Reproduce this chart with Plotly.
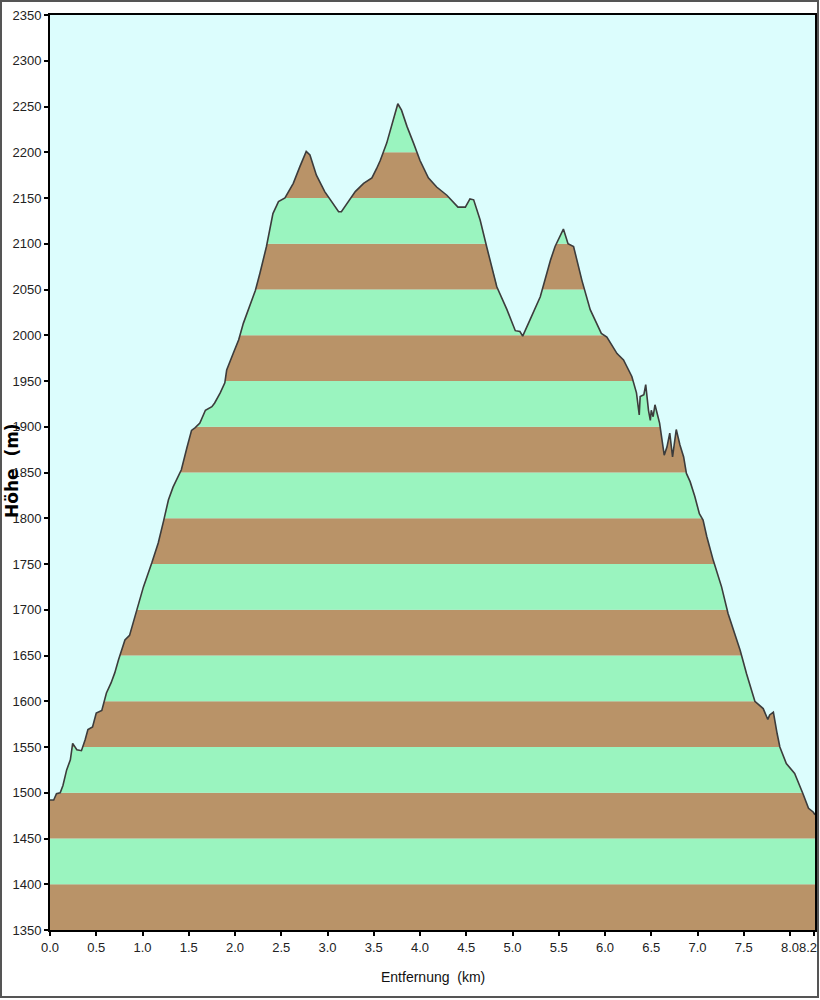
import numpy as np
import plotly.graph_objects as go

distance_km = [
    0.00, 0.04, 0.07, 0.11, 0.14, 0.18, 0.22, 0.245, 0.29, 0.34, 0.38, 0.41, 0.46, 0.50,
    0.56, 0.61, 0.66, 0.70, 0.74, 0.76, 0.81, 0.86, 0.94, 1.01, 1.10, 1.17, 1.23, 1.28,
    1.33, 1.42, 1.48, 1.53, 1.57, 1.62, 1.68, 1.75, 1.78, 1.84, 1.89, 1.91, 1.98, 2.04,
    2.09, 2.22, 2.27, 2.34, 2.41, 2.47, 2.54, 2.63, 2.70, 2.77, 2.81, 2.88, 2.97, 3.05,
    3.12, 3.15, 3.21, 3.30, 3.39, 3.48, 3.53, 3.57, 3.64, 3.71, 3.76, 3.80, 3.86, 3.93,
    4.00, 4.09, 4.18, 4.29, 4.41, 4.49, 4.54, 4.58, 4.65, 4.72, 4.83, 4.94, 5.03, 5.08,
    5.11, 5.19, 5.30, 5.41, 5.46, 5.55, 5.60, 5.66, 5.75, 5.84, 5.96, 6.02, 6.13, 6.20,
    6.29, 6.34, 6.37, 6.38, 6.42, 6.44, 6.47, 6.49, 6.50, 6.52, 6.54, 6.59, 6.64, 6.67,
    6.70, 6.73, 6.77, 6.81, 6.85, 6.88, 6.92, 6.97, 7.02, 7.06, 7.10, 7.17, 7.26, 7.33,
    7.46, 7.53, 7.62, 7.71, 7.76, 7.78, 7.82, 7.86, 7.89, 7.96, 8.05, 8.14, 8.20, 8.25,
    8.27,
]
elevation_m = [
    1492, 1492, 1499, 1500, 1508, 1525, 1536, 1554, 1547, 1546, 1558, 1569, 1572, 1587,
    1590, 1609, 1620, 1631, 1645, 1651, 1667, 1672, 1700, 1725, 1751, 1773, 1798, 1820,
    1834, 1853, 1877, 1896, 1899, 1904, 1918, 1922, 1926, 1937, 1948, 1962, 1980, 1995,
    2013, 2049, 2068, 2097, 2133, 2146, 2150, 2166, 2184, 2201, 2197, 2175, 2157, 2146,
    2135, 2135, 2144, 2157, 2166, 2172, 2182, 2191, 2210, 2235, 2253, 2246, 2228, 2210,
    2191, 2172, 2162, 2153, 2140, 2140, 2149, 2148, 2126, 2097, 2053, 2028, 2005, 2004,
    1999, 2017, 2042, 2082, 2097, 2116, 2100, 2097, 2060, 2028, 2002, 1998, 1980, 1973,
    1955, 1937, 1913, 1933, 1935, 1946, 1918, 1907, 1918, 1911, 1924, 1904, 1869, 1878,
    1893, 1867, 1897, 1880, 1867, 1849, 1840, 1824, 1805, 1798, 1780, 1754, 1725, 1696,
    1656, 1630, 1600, 1592, 1580, 1585, 1588, 1565, 1550, 1532, 1521, 1499, 1483, 1479,
    1476,
]

x_tick_vals = [0.0, 0.5, 1.0, 1.5, 2.0, 2.5, 3.0, 3.5, 4.0, 4.5, 5.0, 5.5, 6.0, 6.5, 7.0, 7.5, 8.0, 8.26]
x_tick_text = ["0.0", "0.5", "1.0", "1.5", "2.0", "2.5", "3.0", "3.5", "4.0", "4.5",
               "5.0", "5.5", "6.0", "6.5", "7.0", "7.5", "8.0", ""]
x_end_label = "8.2"
y_min, y_max, band = 1350, 2350, 50

BROWN = "#b99368"
GREEN = "#9af4bf"
BG = "#dcfdfd"
TICK_FONT = dict(family="Liberation Sans, Arial, sans-serif", size=13, color="#222222")

x = np.array(distance_km, dtype=float)
y = np.array(elevation_m, dtype=float)

# add the points where each straight segment crosses a band edge,
# so that the band fills have crisp horizontal boundaries
edges = np.arange(y_min, y_max + band, band)
xs, ys = [x[0]], [y[0]]
for i in range(len(x) - 1):
    x0, x1, y0, y1 = x[i], x[i + 1], y[i], y[i + 1]
    if y1 != y0:
        lo, hi = min(y0, y1), max(y0, y1)
        cross = [e for e in edges if lo < e < hi]
        cross.sort(reverse=(y1 < y0))
        for e in cross:
            t = (e - y0) / (y1 - y0)
            xs.append(x0 + t * (x1 - x0))
            ys.append(e)
    xs.append(x1)
    ys.append(y1)
xs, ys = np.array(xs), np.array(ys)

fig = go.Figure()
fig.add_trace(go.Scatter(x=xs, y=np.minimum(ys, y_min), mode="lines",
                         line=dict(width=0), hoverinfo="skip", showlegend=False))
for i, lo in enumerate(range(y_min, y_max, band)):
    color = BROWN if i % 2 == 0 else GREEN
    fig.add_trace(go.Scatter(x=xs, y=np.minimum(ys, lo + band), mode="lines",
                             line=dict(width=0), fill="tonexty", fillcolor=color,
                             hoverinfo="skip", showlegend=False))
# profile outline
fig.add_trace(go.Scatter(x=x, y=y, mode="lines", line=dict(color="#3c3c3c", width=1.6),
                         hoverinfo="skip", showlegend=False))

fig.update_layout(
    width=820, height=1000,
    margin=dict(l=50, r=5, t=15, b=70, pad=0, autoexpand=False),
    paper_bgcolor="white", plot_bgcolor=BG,
    showlegend=False,
    xaxis=dict(range=[0, 8.27], tickmode="array", tickvals=x_tick_vals, ticktext=x_tick_text,
               ticks="outside", ticklen=4, tickwidth=1.5, tickcolor="black",
               showline=True, linecolor="black", linewidth=2, mirror=True,
               showgrid=False, zeroline=False, tickfont=TICK_FONT, automargin=False),
    yaxis=dict(range=[y_min, y_max], tickmode="linear", tick0=y_min, dtick=band,
               ticks="outside", ticklen=4, tickwidth=1.5, tickcolor="black",
               showline=True, linecolor="black", linewidth=2, mirror=True,
               showgrid=False, zeroline=False, tickfont=TICK_FONT, automargin=False,
               ticklabeloverflow="allow"),
    annotations=[
        dict(text="<b>Höhe\u00a0\u00a0(m)</b>", textangle=-90, xref="paper", yref="paper",
             x=(12 - 50) / 765, y=(930 - 471) / 915, xanchor="center", yanchor="middle",
             showarrow=False, font=dict(family="DejaVu Sans, Verdana, sans-serif", size=17, color="black")),
        dict(text="Entfernung\u00a0\u00a0(km)", xref="paper", yref="paper",
             x=(433 - 50) / 765, y=(930 - 977) / 915, xanchor="center", yanchor="middle",
             showarrow=False, font=dict(family="Liberation Sans, Arial, sans-serif",
                                        size=14, color="#111111")),
        dict(text=x_end_label, xref="paper", yref="paper",
             x=(819 - 50) / 765, y=(930 - 947) / 915, xanchor="right", yanchor="middle",
             showarrow=False, font=TICK_FONT),
    ],
    shapes=[
        dict(type="rect", xref="paper", yref="paper",
             x0=(1 - 50) / 765, x1=(818 - 50) / 765, y0=(930 - 997) / 915, y1=(930 - 1) / 915,
             line=dict(color="#555555", width=2), fillcolor="rgba(0,0,0,0)", layer="above"),
    ],
)

fig.write_html("out.html", config={"displayModeBar": False},
               post_script="document.body.style.margin='0';document.body.style.overflow='hidden';")
